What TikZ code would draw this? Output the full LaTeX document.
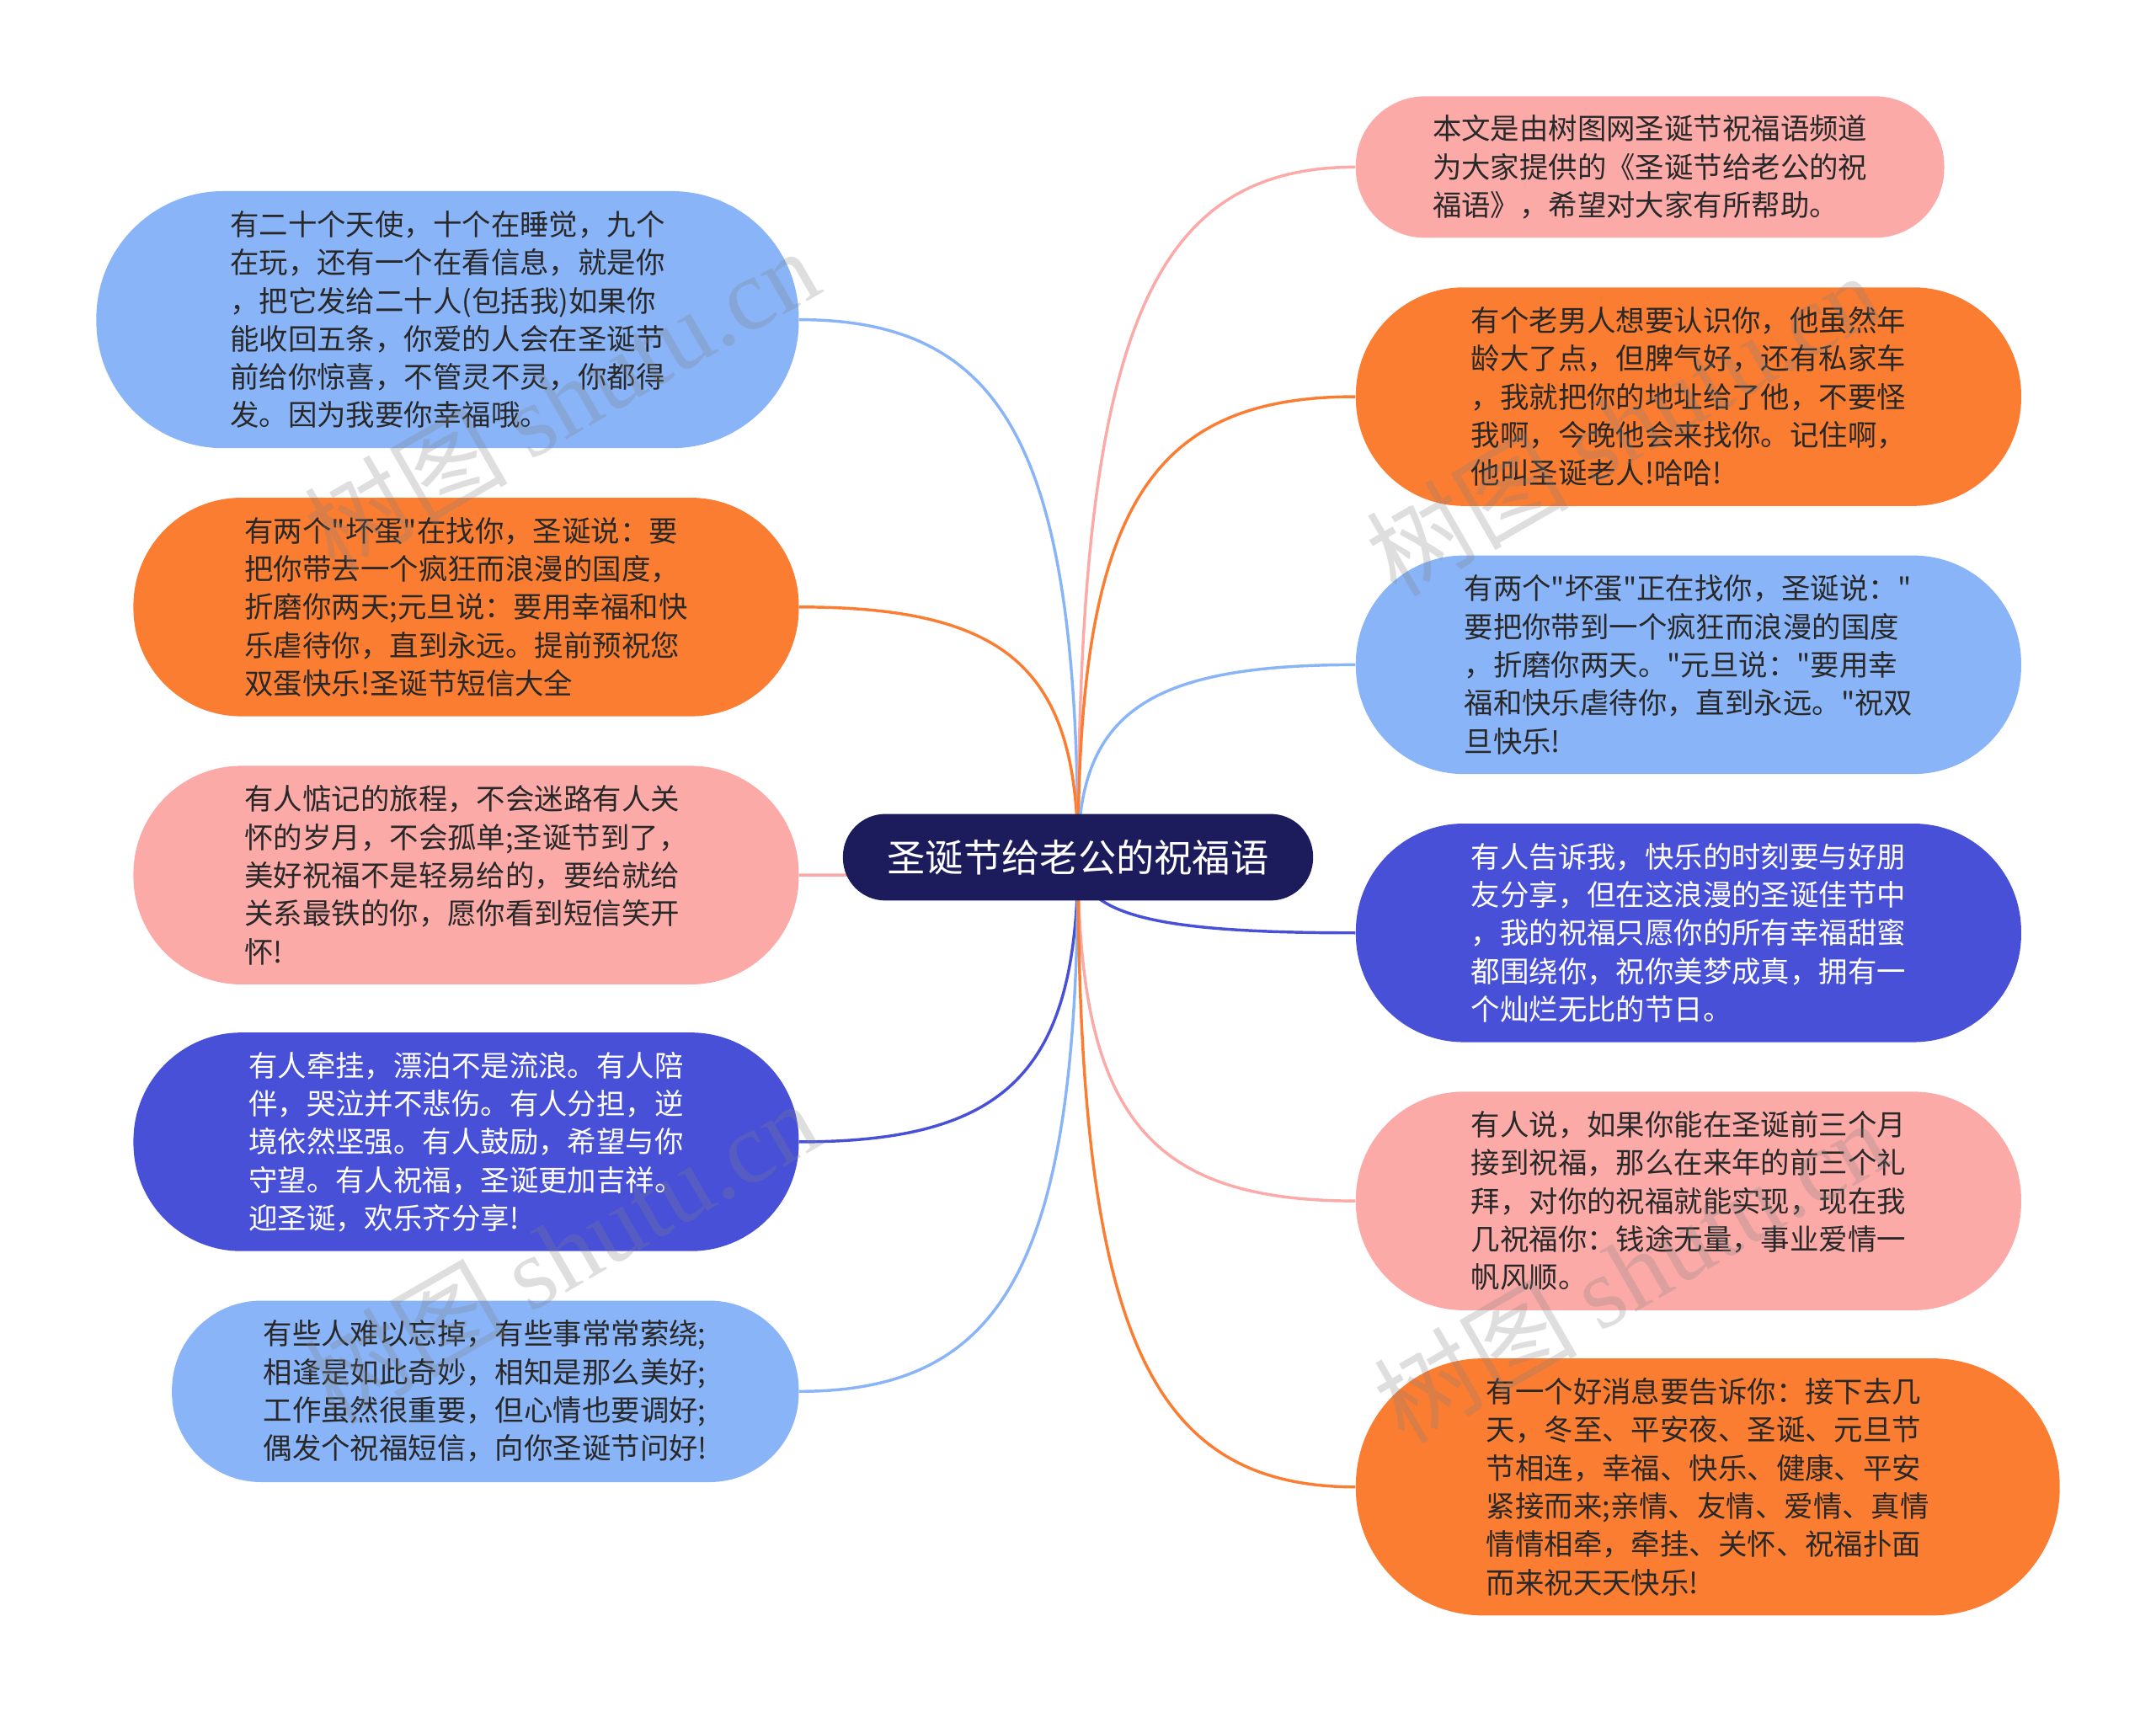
\documentclass[tikz,border=0pt]{standalone}
\usepackage{fontspec}
\setmainfont{Noto Sans CJK SC}
\newfontfamily\cjkplain{Noto Sans CJK SC}
\newfontfamily\wmfont{Liberation Serif}
\usetikzlibrary{backgrounds,calc}

\begin{document}
\begin{tikzpicture}[x=0.02cm,y=-0.02cm,
	bubble/.style={rectangle,align=left,inner sep=0pt,text=txtdark,
		font=\cjkplain\fontsize{12pt}{15.8pt}\selectfont},
	rows7/.style={minimum height=3.74cm,rounded corners=1.85cm},
	rows5/.style={minimum height=3.18cm,rounded corners=1.57cm},
	rows4/.style={minimum height=2.64cm,rounded corners=1.3cm},
	rows3/.style={minimum height=2.06cm,rounded corners=1.01cm},
	link/.style={line width=1.2pt},
	branch/.style={to path={.. controls ($(\tikztostart)!.75!(\tikztostart |- \tikztotarget)$)
		and ($(\tikztotarget)!.75!(\tikztostart |- \tikztotarget)$) .. (\tikztotarget)}},
	wmark/.style={text=gray,opacity=0.26,font=\fontsize{42pt}{46pt}\selectfont,rotate=30}]
\definecolor{navy}{RGB}{28,27,92}
\definecolor{lblue}{RGB}{138,180,248}
\definecolor{orng}{RGB}{250,125,50}
\definecolor{pink}{RGB}{251,170,168}
\definecolor{indigo}{RGB}{72,80,216}
\definecolor{txtdark}{RGB}{40,40,40}

	\useasboundingbox (0,0) rectangle (1568,1245);

	% centre topic
	\node[rectangle,fill=navy,text=white,minimum width=6.84cm,minimum height=1.26cm,
		rounded corners=0.62cm,font=\fontsize{15.8pt}{19pt}\selectfont] (c) at (784,623.5) {圣诞节给老公的祝福语};
	\coordinate (hub) at (784,623);

	% left side
	\node[bubble,rows7,fill=lblue,minimum width=10.22cm] (l1) at (325.5,232.5) {有二十个天使，十个在睡觉，九个\\在玩，还有一个在看信息，就是你\\，把它发给二十人(包括我)如果你\\能收回五条，你爱的人会在圣诞节\\前给你惊喜，不管灵不灵，你都得\\发。因为我要你幸福哦。};
	\node[bubble,rows5,fill=orng,minimum width=9.68cm] (l2) at (339,441.5) {有两个"坏蛋"在找你，圣诞说：要\\把你带去一个疯狂而浪漫的国度，\\折磨你两天;元旦说：要用幸福和快\\乐虐待你，直到永远。提前预祝您\\双蛋快乐!圣诞节短信大全};
	\node[bubble,rows5,fill=pink,minimum width=9.68cm] (l3) at (339,636.5) {有人惦记的旅程，不会迷路有人关\\怀的岁月，不会孤单;圣诞节到了，\\美好祝福不是轻易给的，要给就给\\关系最铁的你，愿你看到短信笑开\\怀!};
	\node[bubble,rows5,fill=indigo,text=white,minimum width=9.68cm] (l4) at (339,830.5) {有人牵挂，漂泊不是流浪。有人陪\\伴，哭泣并不悲伤。有人分担，逆\\境依然坚强。有人鼓励，希望与你\\守望。有人祝福，圣诞更加吉祥。\\迎圣诞，欢乐齐分享!};
	\node[bubble,rows4,fill=lblue,minimum width=9.12cm] (l5) at (353,1012) {有些人难以忘掉，有些事常常萦绕;\\相逢是如此奇妙，相知是那么美好;\\工作虽然很重要，但心情也要调好;\\偶发个祝福短信，向你圣诞节问好!};

	% right side
	\node[bubble,rows3,fill=pink,minimum width=8.56cm] (r1) at (1200,121.5) {本文是由树图网圣诞节祝福语频道\\为大家提供的《圣诞节给老公的祝\\福语》，希望对大家有所帮助。};
	\node[bubble,rows5,fill=orng,minimum width=9.68cm] (r2) at (1228,288.5) {有个老男人想要认识你，他虽然年\\龄大了点，但脾气好，还有私家车\\，我就把你的地址给了他，不要怪\\我啊，今晚他会来找你。记住啊，\\他叫圣诞老人!哈哈!};
	\node[bubble,rows5,fill=lblue,minimum width=9.68cm] (r3) at (1228,483.5) {有两个"坏蛋"正在找你，圣诞说："\\要把你带到一个疯狂而浪漫的国度\\，折磨你两天。"元旦说："要用幸\\福和快乐虐待你，直到永远。"祝双\\旦快乐!};
	\node[bubble,rows5,fill=indigo,text=white,minimum width=9.68cm] (r4) at (1228,678.5) {有人告诉我，快乐的时刻要与好朋\\友分享，但在这浪漫的圣诞佳节中\\，我的祝福只愿你的所有幸福甜蜜\\都围绕你，祝你美梦成真，拥有一\\个灿烂无比的节日。};
	\node[bubble,rows5,fill=pink,minimum width=9.68cm] (r5) at (1228,873.5) {有人说，如果你能在圣诞前三个月\\接到祝福，那么在来年的前三个礼\\拜，对你的祝福就能实现，现在我\\几祝福你：钱途无量，事业爱情一\\帆风顺。};
	\node[bubble,rows7,fill=orng,minimum width=10.24cm] (r6) at (1242,1081.5) {有一个好消息要告诉你：接下去几\\天，冬至、平安夜、圣诞、元旦节\\节相连，幸福、快乐、健康、平安\\紧接而来;亲情、友情、爱情、真情\\情情相牵，牵挂、关怀、祝福扑面\\而来祝天天快乐!};

	% branches
	\begin{scope}[on background layer]
	\draw[link,branch,lblue] (hub) to (l1.east);
	\draw[link,branch,orng] (hub) to (l2.east);
	\draw[link,branch,pink] (hub) to (l3.east);
	\draw[link,branch,indigo] (hub) to (l4.east);
	\draw[link,branch,lblue] (hub) to (l5.east);
	\draw[link,branch,pink] (hub) to (r1.west);
	\draw[link,branch,orng] (hub) to (r2.west);
	\draw[link,branch,lblue] (hub) to (r3.west);
	\draw[link,branch,indigo] (hub) to (r4.west);
	\draw[link,branch,pink] (hub) to (r5.west);
	\draw[link,branch,orng] (hub) to (r6.west);
	\end{scope}

	% watermarks
	\node[wmark] (wm1) at (408,290) {树图 {\wmfont shutu.cn}};
	\node[wmark] (wm2) at (408,910) {树图 {\wmfont shutu.cn}};
	\node[wmark] (wm3) at (1180,308) {树图 {\wmfont shutu.cn}};
	\node[wmark] (wm4) at (1186,924) {树图 {\wmfont shutu.cn}};

\end{tikzpicture}
\end{document}
